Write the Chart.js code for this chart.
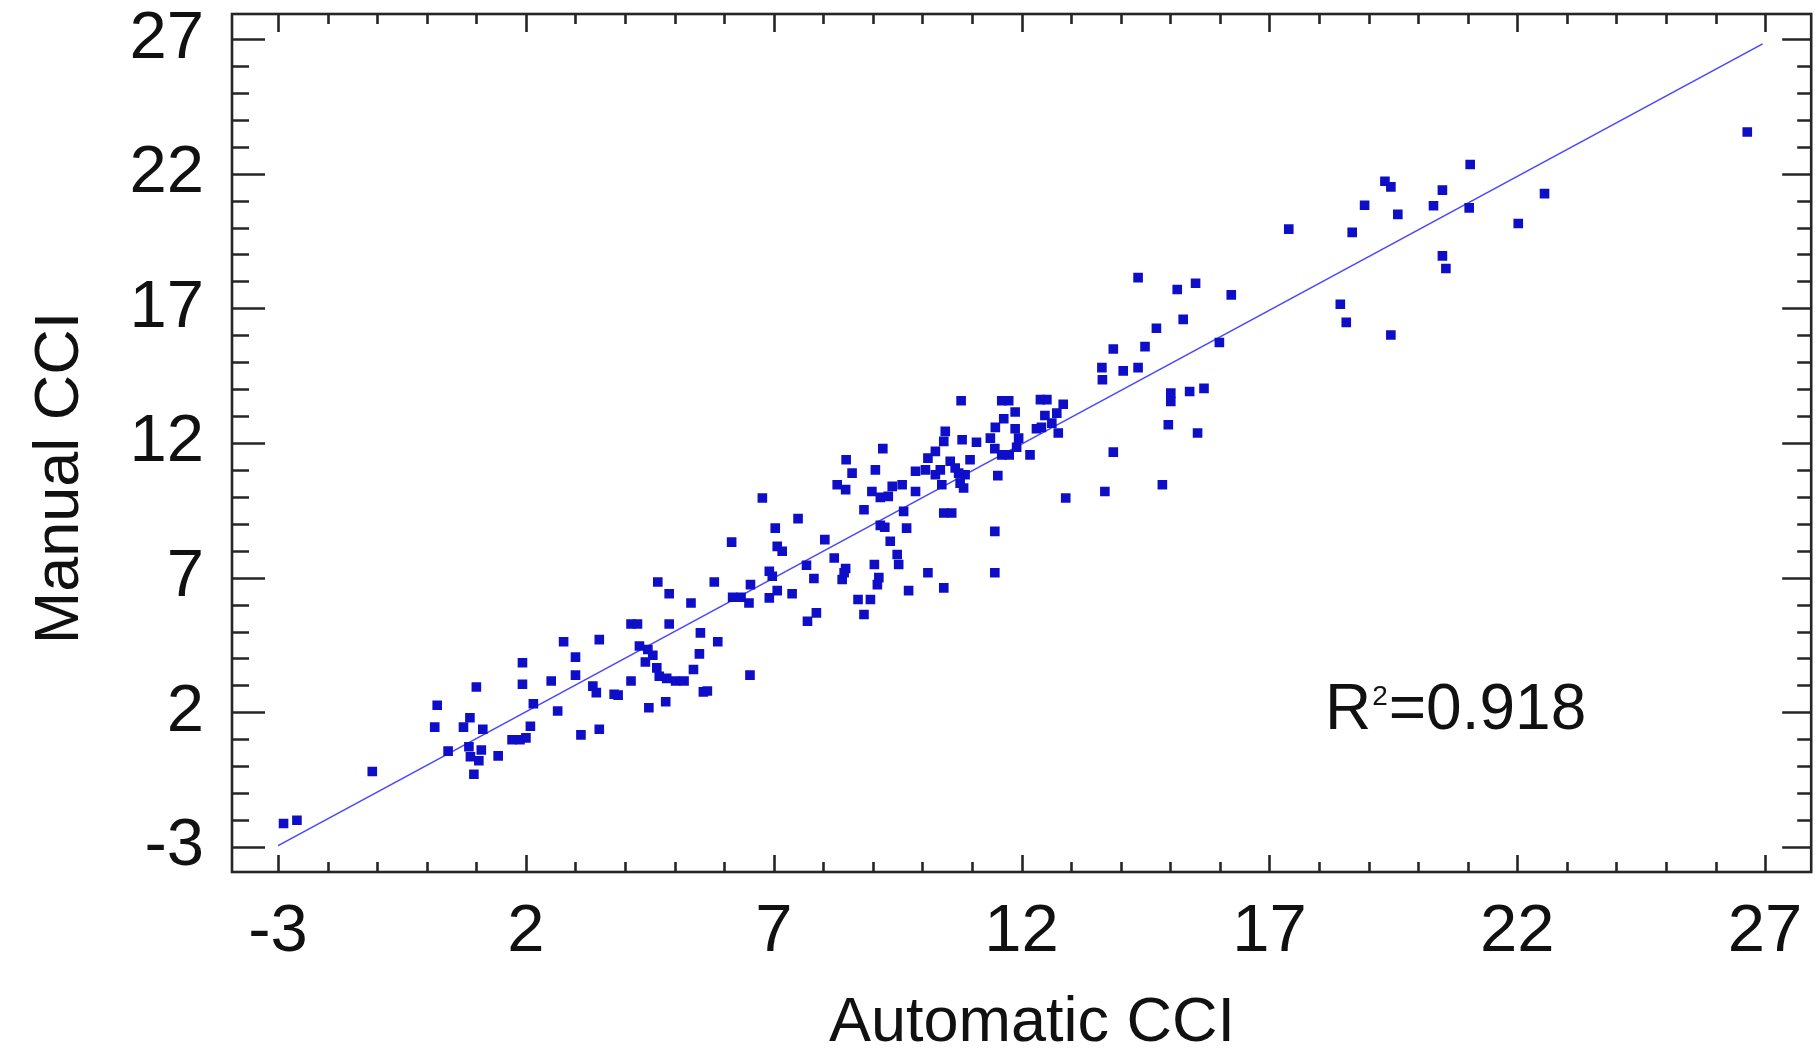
<!DOCTYPE html>
<html lang="en">
<head>
  <meta charset="UTF-8" />
  <title>Manual vs Automatic CCI</title>
  <script src="https://cdn.jsdelivr.net/npm/chart.js"></script>
  <style>
    html, body {
      margin: 0;
      padding: 0;
      background: #fff;
    }
    #wrap {
      width: 1818px;
      height: 1049px;
      position: relative;
    }
  </style>
</head>
<body>
  <div id="wrap"><canvas id="cciChart"></canvas></div>

  <script>
    // automatic CCI (x) and manual CCI (y)
    const autoCCI = [
      -2.89, -2.62, -1.10, 0.21, 0.16, 1.00, 0.87, 0.74, 1.13, 0.43,
      0.85, 1.10, 0.88, 1.05, 0.95, 1.44, 1.93, 1.93, 2.15, 2.09,
      1.72, 1.88, 2.00, 2.51, 2.64, 2.76, 3.00, 3.00, 3.11, 3.48,
      3.48, 3.42, 3.35, 3.78, 3.86, 4.12, 4.12, 4.25, 4.29, 4.46,
      4.56, 4.41, 4.64, 4.69, 4.84, 5.02, 5.19, 4.48, 4.82, 5.38,
      5.50, 5.52, 5.87, 5.58, 5.66, 6.52, 4.89, 5.33, 4.89, 4.66,
      5.80, 6.17, 6.34, 6.53, 6.50, 6.91, 7.07, 6.91, 6.97, 7.37,
      7.03, 6.77, 6.15, 7.07, 7.17, 7.49, 7.66, 7.81, 7.68, 7.86,
      8.03, 8.22, 8.42, 8.45, 8.38, 8.70, 8.95, 8.82, 9.03, 9.12,
      9.09, 9.49, 9.52, 9.72, 10.11, 10.43, 8.82, 9.15, 9.24, 9.35,
      9.68, 9.62, 8.98, 9.15, 9.31, 9.39, 9.59, 9.86, 8.28, 8.45,
      8.46, 8.58, 9.05, 9.20, 9.86, 10.06, 10.39, 10.11, 10.26, 10.43,
      10.46, 10.26, 10.36, 10.56, 10.66, 10.73, 10.86, 10.96, 10.83, 10.76,
      10.43, 10.59, 10.78, 11.09, 10.80, 11.52, 11.46, 11.46, 11.60, 11.74,
      11.87, 11.64, 11.47, 11.37, 11.46, 11.60, 11.75, 11.90, 11.94, 11.87,
      12.17, 12.38, 12.51, 12.84, 12.71, 12.47, 12.40, 12.30, 12.61, 12.74,
      12.89, 13.68, 13.85, 14.84, 14.96, 15.01, 15.01, 15.39, 15.55, 15.68,
      13.85, 14.49, 13.62, 13.63, 14.05, 14.35, 14.72, 15.26, 16.23, 15.14,
      15.51, 14.35, 15.99, 17.39, 18.67, 18.43, 18.55, 19.45, 18.92, 19.33,
      19.45, 19.59, 20.31, 20.49, 21.05, 21.03, 20.49, 20.56, 22.02, 22.55,
      26.64
    ];
    const manualCCI = [
      -2.13, -2.01, -0.20, 2.26, 1.45, 2.94, 1.80, 1.45, 1.37, 0.56,
      0.72, 0.60, 0.35, 0.20, -0.30, 0.38, 3.84, 3.04, 2.32, 1.48,
      0.98, 0.98, 1.05, 3.16, 2.05, 4.62, 4.05, 3.38, 1.16, 1.37,
      4.70, 2.73, 2.97, 2.67, 2.64, 3.16, 5.28, 5.28, 4.46, 4.33,
      4.12, 3.87, 3.65, 3.34, 3.26, 3.16, 3.16, 2.17, 2.39, 3.59,
      4.17, 4.95, 4.62, 2.76, 2.79, 3.38, 5.28, 6.06, 6.40, 6.84,
      6.84, 6.27, 6.27, 6.74, 6.06, 6.25, 6.52, 7.24, 7.05, 6.40,
      8.84, 9.96, 8.32, 8.16, 7.98, 9.19, 7.46, 6.97, 5.38, 5.69,
      8.41, 7.73, 7.18, 7.34, 6.93, 6.19, 6.19, 5.63, 7.49, 7.00,
      6.74, 7.86, 7.49, 6.52, 7.18, 6.62, 9.52, 8.94, 8.87, 8.35,
      8.84, 9.46, 10.20, 9.98, 10.02, 10.39, 10.45, 10.20, 10.45, 10.27,
      11.38, 10.88, 11.00, 11.79, 10.95, 11.00, 10.45, 11.44, 11.69, 12.06,
      12.43, 10.82, 11.00, 11.32, 11.07, 10.88, 10.82, 11.38, 10.33, 10.51,
      9.40, 9.40, 13.57, 12.03, 12.12, 10.79, 8.72, 7.18, 13.57, 13.57,
      13.15, 12.90, 12.58, 12.18, 11.79, 11.56, 11.56, 11.84, 12.18, 12.53,
      11.56, 13.61, 13.61, 13.44, 13.11, 13.02, 12.58, 12.53, 12.74, 12.37,
      9.96, 10.20, 11.66, 10.45, 12.68, 13.85, 13.54, 13.91, 12.37, 14.03,
      15.49, 15.58, 14.80, 14.35, 14.68, 14.80, 16.26, 16.59, 17.50, 17.70,
      17.93, 18.14, 15.73, 19.94, 19.82, 17.15, 16.48, 16.01, 20.83, 21.72,
      21.51, 20.49, 20.81, 21.39, 22.34, 20.73, 18.95, 18.48, 20.15, 21.26,
      23.55
    ];

    // regression line end points
    const fitX = [-3, 26.95];
    const fitY = [-2.95, 26.82];

    // labelled ticks on both axes
    const tickValues = [-3, 2, 7, 12, 17, 22, 27];
    const axisMin = -3.93;
    const axisMax = 27.93;

    const rSquared = "0.918";
    const rLabelAt = { x: 18.12, y: 2.05 };

    const FONT = "'Liberation Sans', Arial, sans-serif";
    const INK = "#262626";

    const scatterPoints = autoCCI.map((v, i) => ({ x: v, y: manualCCI[i] }));
    const linePoints = fitX.map((v, i) => ({ x: v, y: fitY[i] }));

    function fixTicks(scale) {
      scale.ticks = tickValues.map(v => ({ value: v }));
    }

    // box round the plot with inward ticks on all four sides, axis titles, R² note
    const framePlugin = {
      id: "framePlugin",
      afterDatasetsDraw(chart) {
        const { ctx, chartArea: a, scales: { x, y } } = chart;
        ctx.save();
        ctx.strokeStyle = INK;
        ctx.lineWidth = 2.6;
        ctx.strokeRect(a.left, a.top, a.right - a.left, a.bottom - a.top);

        ctx.beginPath();
        for (let v = Math.ceil(x.min); v <= x.max; v++) {
          const big = tickValues.includes(v);
          const px = Math.round(x.getPixelForValue(v)) + 0.5;
          ctx.moveTo(px, a.bottom);
          ctx.lineTo(px, a.bottom - (big ? 17 : 10));
          ctx.moveTo(px, a.top);
          ctx.lineTo(px, a.top + (big ? 18 : 10));
        }
        for (let v = Math.ceil(y.min); v <= y.max; v++) {
          const big = tickValues.includes(v);
          const py = Math.round(y.getPixelForValue(v)) + 0.5;
          ctx.moveTo(a.left, py);
          ctx.lineTo(a.left + (big ? 33 : 17), py);
          ctx.moveTo(a.right, py);
          ctx.lineTo(a.right - (big ? 29 : 14), py);
        }
        ctx.stroke();

        // R² annotation
        const rx = x.getPixelForValue(rLabelAt.x);
        const ry = y.getPixelForValue(rLabelAt.y);
        ctx.fillStyle = "#111";
        ctx.textBaseline = "middle";
        ctx.textAlign = "left";
        ctx.font = "64px " + FONT;
        ctx.fillText("R", rx, ry);
        const rw = ctx.measureText("R").width;
        ctx.font = "28px " + FONT;
        ctx.textBaseline = "alphabetic";
        ctx.fillText("2", rx + rw + 1, ry - 6);
        const sw = ctx.measureText("2").width;
        ctx.font = "64px " + FONT;
        ctx.textBaseline = "middle";
        ctx.fillText("=" + rSquared, rx + rw + sw + 2, ry);

        // axis titles
        ctx.fillStyle = "#111";
        ctx.font = "63px " + FONT;
        ctx.textAlign = "center";
        ctx.textBaseline = "alphabetic";
        ctx.fillText("Automatic CCI", 1032, 1041);
        ctx.translate(78, 478);
        ctx.rotate(-Math.PI / 2);
        ctx.fillText("Manual CCI", 0, 0);
        ctx.restore();
      }
    };

    new Chart(document.getElementById("cciChart"), {
      type: "scatter",
      data: {
        datasets: [
          {
            label: "CCI",
            data: scatterPoints,
            pointStyle: "rect",
            pointRadius: 6.8,
            pointBorderWidth: 0,
            backgroundColor: "#0e0ec8",
            borderColor: "#0e0ec8",
            order: 0
          },
          {
            type: "line",
            label: "fit",
            data: linePoints,
            borderColor: "#4848ff",
            borderWidth: 1.6,
            pointRadius: 0,
            fill: false,
            order: 1
          }
        ]
      },
      options: {
        responsive: true,
        maintainAspectRatio: false,
        animation: false,
        layout: { padding: { left: 0, top: 14, right: 4, bottom: 0 } },
        plugins: {
          legend: { display: false },
          tooltip: { enabled: false }
        },
        scales: {
          x: {
            type: "linear",
            min: axisMin,
            max: axisMax,
            grid: { display: false, drawTicks: false },
            border: { display: false },
            afterBuildTicks: fixTicks,
            afterFit(scale) {
              scale.height = 177;
              scale.paddingLeft = 0;
              scale.paddingRight = 0;
              scale.paddingTop = 0;
              scale.paddingBottom = 0;
            },
            ticks: {
              autoSkip: false,
              maxRotation: 0,
              padding: 20,
              color: "#111",
              font: { family: FONT, size: 67, lineHeight: 1.2 }
            }
          },
          y: {
            type: "linear",
            min: axisMin,
            max: axisMax,
            grid: { display: false, drawTicks: false },
            border: { display: false },
            afterBuildTicks: fixTicks,
            afterFit(scale) {
              scale.width = 232;
              scale.paddingLeft = 0;
              scale.paddingRight = 0;
              scale.paddingTop = 0;
              scale.paddingBottom = 0;
            },
            ticks: {
              autoSkip: false,
              padding: 28,
              color: "#111",
              font: { family: FONT, size: 67, lineHeight: 1.2 }
            }
          }
        }
      },
      plugins: [framePlugin]
    });
  </script>
</body>
</html>
